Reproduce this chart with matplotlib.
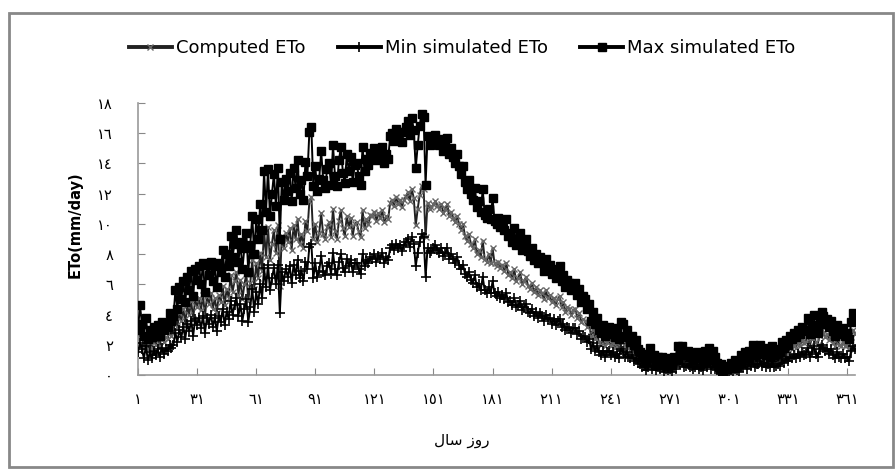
import matplotlib
matplotlib.use("Agg")
import matplotlib.pyplot as plt
from matplotlib.patches import Rectangle
import numpy as np

# daily ETo (mm/day)
max_eto = [
    3.0, 4.6, 3.4, 2.6, 3.8, 2.4, 3.0, 2.5, 3.2, 2.8,
    3.3, 2.6, 3.5, 3.0, 3.4, 3.2, 4.1, 3.6, 3.9, 5.6,
    4.4, 5.8, 5.0, 6.2, 4.8, 6.5, 5.6, 6.9, 5.2, 7.0,
    6.3, 7.2, 6.0, 7.4, 5.5, 7.3, 6.6, 7.5, 6.2, 7.2,
    5.8, 7.4, 6.8, 8.3, 6.5, 8.0, 7.2, 9.2, 7.8, 8.7,
    9.6, 7.5, 8.8, 7.0, 8.4, 9.4, 6.8, 8.6, 10.5, 8.0,
    10.3, 9.0, 11.3, 9.6, 13.5, 10.8, 13.6, 10.5, 12.0, 13.3,
    11.2, 13.7, 9.0, 12.8, 11.6, 13.0, 12.2, 13.4, 11.5, 13.7,
    12.4, 14.2, 12.0, 12.9, 11.6, 14.1, 13.2, 16.1, 16.4, 12.5,
    13.8, 12.2, 13.0, 14.8, 12.9, 12.4, 13.6, 14.0, 12.6, 15.2,
    13.2, 12.5, 14.2, 15.1, 13.4, 12.7, 14.6, 13.5, 14.4, 12.8,
    13.9, 14.0, 13.2, 12.6, 15.1, 13.5, 14.3, 13.9, 14.7, 14.5,
    15.0, 14.2, 14.8, 14.4, 15.1, 14.0, 14.6, 14.3, 15.8, 16.0,
    15.5, 16.3, 15.7, 16.1, 15.4, 16.1, 16.4, 16.8, 15.9, 17.0,
    16.2, 13.7, 15.2, 16.5, 17.3, 17.1, 12.6, 15.8, 15.2, 15.4,
    15.6, 15.9, 15.5, 15.2, 15.6, 14.8, 15.3, 15.7, 14.6, 15.0,
    14.4, 14.0, 14.6, 13.8, 13.3, 13.8, 12.8, 12.3, 12.9, 12.0,
    11.6, 12.4, 11.1, 11.5, 10.8, 12.3, 10.6, 10.4, 11.0, 10.3,
    11.7, 10.2, 10.0, 10.4, 9.8, 10.1, 9.6, 10.3, 9.2, 9.4,
    8.8, 9.7, 8.6, 8.9, 9.4, 8.3, 8.6, 9.0, 8.2, 7.9,
    8.4, 7.6, 8.0, 7.4, 7.8, 7.5, 6.9, 7.7, 7.1, 7.3,
    6.7, 7.0, 6.4, 6.9, 7.2, 6.2, 6.6, 5.8, 6.3, 6.1,
    5.6, 6.0, 6.1, 5.3, 5.7, 4.8, 5.2, 5.0, 4.4, 4.7,
    3.6, 4.2, 3.4, 3.8, 3.0, 2.8, 3.3, 2.6, 3.0, 3.2,
    2.7, 3.1, 2.5, 2.9, 2.4, 3.5, 3.4, 2.6, 3.0, 2.5,
    2.2, 2.6, 2.0, 2.3, 1.7, 1.5, 1.2, 1.4, 0.9, 1.3,
    1.8, 1.1, 1.3, 0.8, 1.2, 1.0, 1.2, 0.7, 1.1, 0.9,
    1.0, 0.7, 1.2, 1.1, 1.9, 1.7, 1.9, 1.3, 1.4, 1.6,
    1.2, 1.4, 1.0, 1.3, 1.5, 1.1, 1.2, 0.9, 1.6, 1.3,
    1.8, 1.0, 1.6, 1.2, 0.8, 0.5, 0.7, 0.3, 0.6, 0.4,
    0.5, 0.8, 0.6, 1.0, 0.9, 0.7, 1.3, 1.2, 1.5, 1.1,
    1.6, 1.4, 2.0, 1.3, 1.5, 1.7, 2.0, 1.4, 1.8, 1.3,
    1.6, 1.2, 1.9, 1.3, 1.4, 1.7, 1.5, 2.2, 1.8, 2.3,
    2.0, 2.6, 2.4, 2.8, 2.5, 3.0, 2.7, 3.2, 2.9, 3.0,
    3.8, 2.7, 3.3, 4.0, 3.1, 2.8, 3.6, 4.2, 3.9, 3.4,
    3.7, 3.2, 3.6, 2.9, 2.6, 3.3, 2.8, 2.7, 3.1, 2.6,
    2.8, 2.4, 3.5, 4.1, 3.8,
]

computed_eto = [
    2.2, 3.0, 2.5, 1.8, 2.7, 1.7, 2.2, 1.8, 2.4, 2.0,
    2.5, 1.9, 2.6, 2.2, 2.5, 2.4, 2.9, 2.6, 2.8, 3.9,
    3.2, 4.1, 3.6, 4.4, 3.4, 4.6, 4.0, 4.9, 3.7, 5.0,
    4.5, 5.1, 4.3, 5.3, 3.9, 5.2, 4.7, 5.4, 4.4, 5.1,
    4.1, 5.3, 4.8, 5.9, 4.6, 5.7, 5.1, 6.6, 5.5, 6.2,
    6.8, 5.3, 6.3, 5.0, 6.0, 6.7, 4.9, 6.1, 7.6, 5.7,
    7.4, 6.4, 8.1, 6.9, 9.6, 7.8, 9.8, 7.6, 8.7, 9.6,
    8.1, 9.9, 5.9, 9.2, 8.4, 9.4, 8.8, 9.7, 8.3, 9.9,
    9.0, 10.3, 8.7, 9.3, 8.4, 10.2, 9.5, 11.5, 11.8, 9.0,
    10.0, 8.8, 9.4, 10.7, 9.3, 9.0, 9.8, 10.1, 9.1, 11.0,
    9.5, 9.0, 10.2, 10.9, 9.7, 9.2, 10.5, 9.8, 10.4, 9.2,
    10.0, 10.1, 9.5, 9.1, 10.9, 9.7, 10.3, 10.0, 10.6, 10.5,
    10.8, 10.2, 10.7, 10.4, 10.9, 10.1, 10.5, 10.3, 11.4, 11.6,
    11.2, 11.8, 11.3, 11.6, 11.1, 11.6, 11.8, 12.1, 11.5, 12.3,
    11.7, 9.9, 11.0, 11.9, 12.5, 12.3, 9.1, 11.4, 11.0, 11.1,
    11.3, 11.5, 11.2, 11.0, 11.3, 10.7, 11.0, 11.3, 10.5, 10.8,
    10.4, 10.1, 10.5, 10.0, 9.6, 10.0, 9.2, 8.9, 9.3, 8.7,
    8.4, 9.0, 8.0, 8.3, 7.8, 8.9, 7.7, 7.5, 8.0, 7.4,
    8.4, 7.4, 7.2, 7.5, 7.1, 7.3, 6.9, 7.4, 6.6, 6.8,
    6.4, 7.0, 6.2, 6.4, 6.8, 6.0, 6.2, 6.5, 5.9, 5.7,
    6.1, 5.5, 5.8, 5.3, 5.6, 5.4, 5.0, 5.6, 5.1, 5.3,
    4.8, 5.1, 4.6, 5.0, 5.2, 4.5, 4.8, 4.2, 4.5, 4.4,
    4.0, 4.3, 4.4, 3.8, 4.1, 3.5, 3.7, 3.6, 3.2, 3.4,
    2.6, 3.0, 2.4, 2.7, 2.2, 2.0, 2.4, 1.9, 2.2, 2.3,
    1.9, 2.2, 1.8, 2.1, 1.7, 2.5, 2.4, 1.9, 2.2, 1.8,
    1.6, 1.9, 1.4, 1.7, 1.2, 1.1, 0.9, 1.0, 0.6, 0.9,
    1.3, 0.8, 0.9, 0.6, 0.9, 0.7, 0.9, 0.5, 0.8, 0.6,
    0.7, 0.5, 0.9, 0.8, 1.4, 1.2, 1.4, 0.9, 1.0, 1.2,
    0.9, 1.0, 0.7, 0.9, 1.1, 0.8, 0.9, 0.6, 1.2, 0.9,
    1.3, 0.7, 1.2, 0.9, 0.6, 0.3, 0.5, 0.2, 0.4, 0.3,
    0.4, 0.6, 0.4, 0.7, 0.6, 0.5, 0.9, 0.9, 1.1, 0.8,
    1.2, 1.0, 1.4, 0.9, 1.1, 1.2, 1.4, 1.0, 1.3, 0.9,
    1.2, 0.9, 1.4, 0.9, 1.0, 1.2, 1.1, 1.6, 1.3, 1.7,
    1.4, 1.9, 1.7, 2.0, 1.8, 2.2, 1.9, 2.3, 2.1, 2.2,
    2.8, 1.9, 2.4, 2.9, 2.2, 2.0, 2.6, 3.0, 2.8, 2.5,
    2.7, 2.3, 2.6, 2.1, 1.9, 2.4, 2.0, 1.9, 2.2, 1.9,
    2.0, 1.7, 2.5, 3.0, 2.7,
]

min_eto = [
    1.5, 2.1, 1.7, 1.1, 1.9, 1.0, 1.5, 1.1, 1.6, 1.3,
    1.7, 1.2, 1.8, 1.4, 1.7, 1.6, 2.0, 1.8, 2.0, 2.8,
    2.2, 3.0, 2.5, 3.2, 2.4, 3.4, 2.9, 3.6, 2.6, 3.7,
    3.3, 3.8, 3.1, 3.9, 2.8, 3.8, 3.4, 4.0, 3.2, 3.8,
    2.9, 3.9, 3.5, 4.4, 3.3, 4.2, 3.7, 4.9, 4.0, 4.6,
    5.1, 3.9, 4.7, 3.6, 4.4, 5.0, 3.5, 4.5, 5.7, 4.2,
    5.5, 4.7, 6.0, 5.1, 7.1, 5.8, 7.3, 5.6, 6.4, 7.1,
    6.0, 7.3, 4.1, 6.8, 6.2, 7.0, 6.5, 7.2, 6.1, 7.3,
    6.6, 7.6, 6.4, 6.9, 6.2, 7.5, 7.0, 8.5, 8.7, 6.4,
    7.4, 6.5, 6.9, 7.9, 6.8, 6.6, 7.2, 7.4, 6.7, 8.1,
    7.0, 6.6, 7.5, 8.0, 7.1, 6.8, 7.7, 7.2, 7.6, 6.8,
    7.4, 7.4, 7.0, 6.7, 8.0, 7.2, 7.6, 7.4, 7.8, 7.7,
    8.0, 7.5, 7.9, 7.7, 8.1, 7.4, 7.8, 7.6, 8.4, 8.6,
    8.3, 8.7, 8.4, 8.6, 8.2, 8.6, 8.8, 9.0, 8.5, 9.1,
    8.7, 7.2, 8.1, 8.8, 9.3, 9.1, 6.5, 8.4, 8.1, 8.2,
    8.4, 8.6, 8.3, 8.1, 8.4, 7.9, 8.1, 8.4, 7.7, 8.0,
    7.7, 7.4, 7.8, 7.3, 7.0, 7.3, 6.7, 6.5, 6.8, 6.3,
    6.1, 6.6, 5.8, 6.0, 5.6, 6.5, 5.6, 5.4, 5.8, 5.4,
    6.2, 5.4, 5.2, 5.5, 5.1, 5.3, 5.0, 5.4, 4.8, 4.9,
    4.6, 5.1, 4.5, 4.6, 4.9, 4.3, 4.5, 4.7, 4.2, 4.1,
    4.4, 3.9, 4.2, 3.8, 4.1, 3.9, 3.6, 4.0, 3.7, 3.8,
    3.4, 3.7, 3.3, 3.6, 3.7, 3.2, 3.4, 3.0, 3.2, 3.1,
    2.8, 3.1, 3.1, 2.7, 2.9, 2.4, 2.6, 2.5, 2.2, 2.4,
    1.7, 2.1, 1.6, 1.9, 1.5, 1.3, 1.6, 1.2, 1.5, 1.6,
    1.3, 1.5, 1.2, 1.4, 1.1, 1.7, 1.6, 1.2, 1.5, 1.2,
    1.1, 1.3, 0.9, 1.1, 0.8, 0.7, 0.5, 0.6, 0.3, 0.5,
    0.8, 0.4, 0.6, 0.3, 0.5, 0.4, 0.5, 0.2, 0.4, 0.3,
    0.4, 0.2, 0.5, 0.4, 0.9, 0.7, 0.9, 0.5, 0.6, 0.7,
    0.5, 0.6, 0.4, 0.5, 0.7, 0.4, 0.5, 0.3, 0.7, 0.5,
    0.8, 0.4, 0.7, 0.5, 0.3, 0.1, 0.2, 0.0, 0.2, 0.1,
    0.2, 0.3, 0.2, 0.4, 0.3, 0.2, 0.5, 0.5, 0.7, 0.4,
    0.7, 0.6, 0.9, 0.5, 0.7, 0.7, 0.9, 0.6, 0.8, 0.5,
    0.7, 0.5, 0.9, 0.5, 0.6, 0.7, 0.6, 1.0, 0.8, 1.1,
    0.9, 1.2, 1.1, 1.3, 1.1, 1.4, 1.2, 1.5, 1.3, 1.4,
    1.8, 1.2, 1.5, 1.9, 1.4, 1.2, 1.7, 2.0, 1.8, 1.6,
    1.7, 1.4, 1.7, 1.3, 1.1, 1.5, 1.2, 1.1, 1.4, 1.1,
    1.2, 0.9, 1.6, 1.9, 1.7,
]

days = np.arange(1, len(max_eto) + 1)

x_ticks = [1, 31, 61, 91, 121, 151, 181, 211, 241, 271, 301, 331, 361]
x_ticklabels = ["١", "٣١", "٦١", "٩١", "١٢١", "١٥١", "١٨١", "٢١١", "٢٤١", "٢٧١", "٣٠١", "٣٣١", "٣٦١"]
y_ticks = [0, 2, 4, 6, 8, 10, 12, 14, 16, 18]
y_ticklabels = ["٠", "٢", "٤", "٦", "٨", "١٠", "١٢", "١٤", "١٦", "١٨"]

# Arabic label "روز سال" written in visual order with presentation forms
xlabel = "\ufedd\ufe8e\ufeb3 \ufeaf\ufeed\ufead"

fig = plt.figure(figsize=(8.96, 4.70), dpi=100)
ax = fig.add_axes([138/896, 1 - 375/470, (855-138)/896, (375-103)/470])

ax.plot(days, computed_eto, color="#222222", lw=1.4, marker="x", ms=5,
        mec="#666666", mew=1.0, label="Computed ETo", zorder=2)
ax.plot(days, min_eto, color="black", lw=1.4, marker="+", ms=7,
        mew=1.2, label="Min simulated ETo", zorder=3)
ax.plot(days, max_eto, color="black", lw=1.4, marker="s", ms=5.5,
        label="Max simulated ETo", zorder=4)

ax.set_xlim(1, 365)
ax.set_ylim(0, 18)
ax.set_xticks(x_ticks)
ax.set_xticklabels(x_ticklabels, family="DejaVu Sans", fontsize=10.5)
ax.set_yticks(y_ticks)
ax.set_yticklabels(y_ticklabels, family="DejaVu Sans", fontsize=10.5)
ax.tick_params(direction="in", length=5, color="#888888")
ax.tick_params(axis="y", pad=18)
ax.tick_params(axis="x", pad=12)
for s in ["top", "right"]:
    ax.spines[s].set_visible(False)
for s in ["left", "bottom"]:
    ax.spines[s].set_color("#999999")
    ax.spines[s].set_linewidth(1.2)

fig.text(75/896, 1 - 225/470, "ETo(mm/day)", rotation=90, ha="center",
         va="center", fontsize=10.5, fontweight="bold")
fig.text(462/896, 1 - 440/470, xlabel, ha="center", va="center",
         family="DejaVu Sans", fontsize=11)

leg = fig.legend(loc="center", bbox_to_anchor=(462/896, 1 - 48/470), ncol=3,
                 frameon=False, handlelength=2.4, handletextpad=0.2,
                 columnspacing=1.8, prop={"family": "Liberation Sans Narrow", "size": 13})
for h in leg.legend_handles:
    h.set_linewidth(2.8)

fig.patches.append(Rectangle((9/896, 3/470), 884/896, 454/470, transform=fig.transFigure,
                             fill=False, edgecolor="#888888", lw=2))

fig.savefig("out.png", dpi=100)
